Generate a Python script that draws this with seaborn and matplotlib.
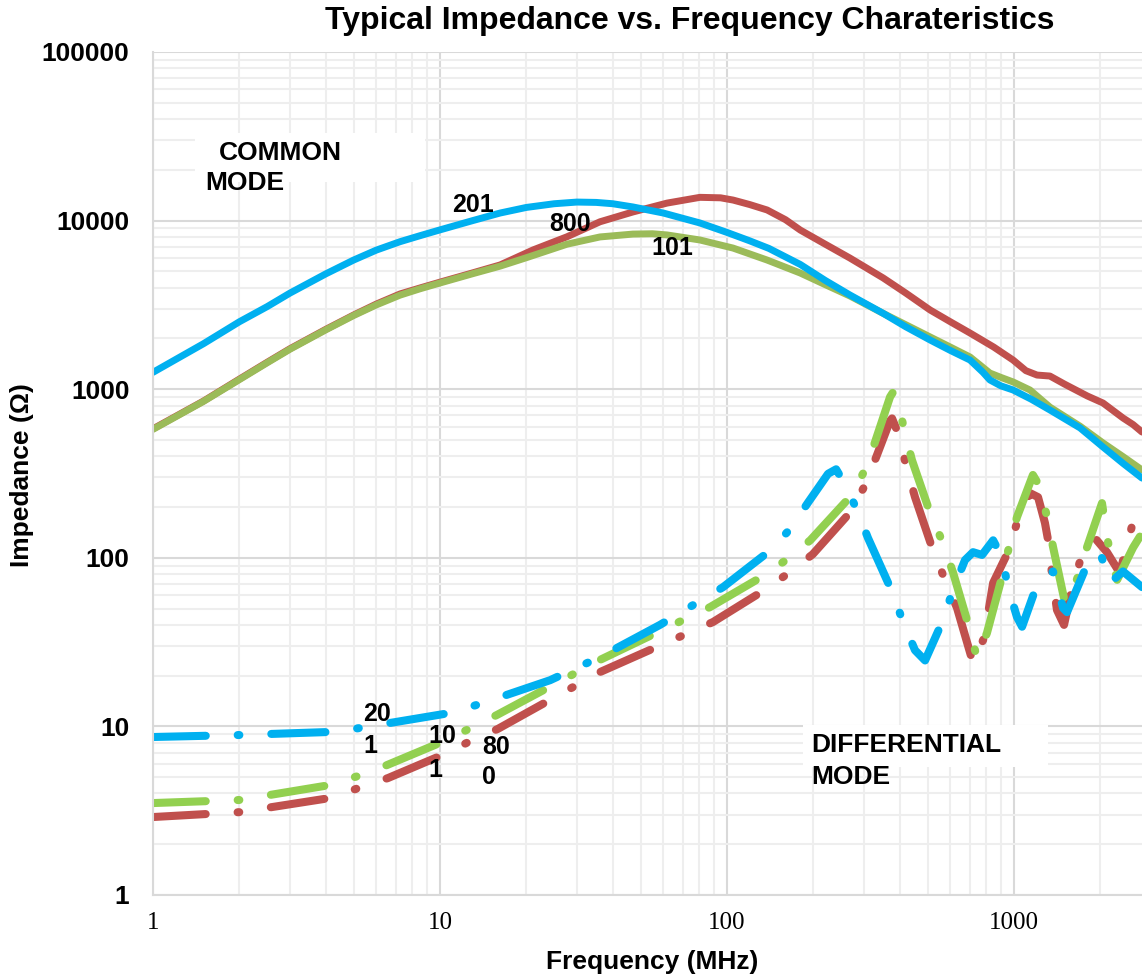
import numpy as np
import pandas as pd
import matplotlib
matplotlib.use("Agg")
import matplotlib.pyplot as plt
import seaborn as sns
from matplotlib.ticker import LogLocator, FixedLocator, FixedFormatter, NullFormatter
from matplotlib.patches import Rectangle

# ---------------- data (MHz, Ohm) ----------------
cm201_f = [1, 1.5, 2, 2.5, 3, 4, 5, 6, 7.26, 8.5, 10, 13, 16.2, 20, 25, 30, 35, 40, 47, 60, 80.5, 100, 120, 140,
           180, 220, 268, 350, 420, 510, 600, 703, 780, 824, 900, 993, 1150, 1334, 1700, 2043, 2400, 2793]
cm201_z = [1259, 1862, 2512, 3090, 3715, 4831, 5834, 6683, 7499, 8128, 8810, 10000, 11090, 11970, 12590, 12880,
           12820, 12590, 12050, 11090, 9680, 8510, 7586, 6839, 5495, 4416, 3622, 2818, 2344, 1959, 1698, 1489,
           1259, 1135, 1047, 989, 871, 753, 589, 454, 363, 297]

cm800_f = [1, 1.5, 2, 2.5, 3, 4, 5, 6, 7.26, 8.5, 10, 13, 16.2, 21.1, 27.7, 36.1, 47, 61.8, 80.5, 95, 105, 120, 138,
           160, 180, 220, 268, 350, 420, 510, 600, 703, 850, 993, 1100, 1203, 1334, 1500, 1800, 2043, 2398, 2600, 2793]
cm800_z = [582, 851, 1148, 1445, 1738, 2265, 2754, 3199, 3673, 3981, 4315, 4898, 5458, 6699, 8017, 9840, 11250,
           12700, 13740, 13650, 13240, 12450, 11560, 10120, 8790, 7244, 5998, 4571, 3715, 2951, 2512, 2153, 1778,
           1489, 1288, 1213, 1197, 1072, 912, 828, 675, 617, 557]

cm101_f = [1, 1.5, 2, 2.5, 3, 4, 5, 6, 7.26, 8.5, 10, 13, 16.2, 20, 27.7, 36.1, 47, 55, 61.8, 80.5, 105, 138, 180,
           220, 268, 350, 510, 600, 703, 824, 900, 993, 1137, 1334, 1700, 2043, 2400, 2793]
cm101_z = [578, 847, 1140, 1435, 1726, 2249, 2735, 3162, 3614, 3936, 4266, 4842, 5370, 6026, 7244, 8000, 8318,
           8356, 8222, 7674, 6871, 5834, 4887, 4169, 3573, 2818, 2042, 1778, 1552, 1247, 1175, 1104, 989, 783,
           603, 480, 398, 332]

dm201_f = [1, 2, 4.14, 5.0, 10.8, 13.8, 24.2, 36.1, 58.4, 96.9, 139, 166, 191, 225, 240, 254, 284, 310, 376, 410, 452,
           490, 566, 613, 675, 720, 774, 846, 908, 953, 1024, 1067, 1213, 1368, 1483, 1531, 1767, 1995, 2160, 2398, 2793]
dm201_z = [8.65, 8.89, 9.27, 9.65, 12.0, 13.6, 18.8, 25.8, 40, 67, 108, 148, 211, 315, 335, 285, 192, 131, 63, 42,
           28.3, 24.6, 42.7, 64.5, 97, 108, 104, 127, 101, 67, 44.6, 39, 72, 83, 50.3, 47.6, 85, 108, 71, 83, 67]

dm101_f = [1, 2, 4.14, 5.18, 6.54, 10.2, 12.6, 15.8, 36.1, 87.3, 132, 162, 195, 268, 303, 328, 370, 379, 391, 414,
           441, 510, 566, 613, 697, 743, 805, 908, 961, 1024, 1164, 1222, 1303, 1368, 1506, 1659, 1795, 2026, 2043,
           2126, 2288, 2600, 2793]
dm101_z = [3.51, 3.66, 4.49, 5.08, 5.9, 8.1, 9.66, 11.7, 24.8, 51, 77, 98, 127, 229, 333, 486, 900, 960, 890, 581,
           380, 185, 122, 82, 39, 25.5, 35.8, 77, 116, 174, 310, 270, 176, 116, 54, 75, 115, 211, 192, 124, 74,
           115, 140]

dm800_f = [1, 2, 4.14, 5.18, 6.59, 10.2, 12.6, 15.9, 36.1, 89.4, 132, 162, 199, 268, 303, 333, 370, 376, 397, 421,
           452, 522, 575, 633, 720, 786, 846, 953, 1024, 1137, 1213, 1282, 1334, 1356, 1412, 1494, 1594, 1712, 1914,
           2108, 2341, 2436, 2600, 2793]
dm800_z = [2.9, 3.1, 3.76, 4.3, 4.94, 6.77, 8.1, 9.66, 21, 41.6, 62.8, 80, 105, 185, 270, 406, 650, 671, 535, 351,
           229, 111, 74, 50.5, 23.8, 33.4, 71, 108, 161, 242, 229, 161, 111, 79, 49, 40, 66, 100, 131, 108, 81,
           108, 163, 179]

ytick_vals = [1, 10, 100, 1000, 10000, 100000]
ytick_labels = ["1", "10", "100", "1000", "10000", "100000"]
xtick_vals = [1, 10, 100, 1000]
xtick_labels = ["1", "10", "100", "1000"]

BLUE = "#00B0F0"
RED = "#C0504D"
GREEN_CM = "#9BBB59"
GREEN_DM = "#92D050"

# ---------------- style ----------------
sns.set_style("white")
plt.rcParams["font.family"] = ["Liberation Sans", "DejaVu Sans"]
plt.rcParams["lines.scale_dashes"] = False
for k in ["text.color", "axes.labelcolor", "xtick.color", "ytick.color"]:
    plt.rcParams[k] = "black"

fig = plt.figure(figsize=(11.42, 9.77), dpi=100)
ax = fig.add_axes([153 / 1142, 82 / 977, 989 / 1142, 843 / 977])
ax.set_xscale("log")
ax.set_yscale("log")
ax.set_xlim(1, 2793)
ax.set_ylim(1, 100000)
ax.set_axisbelow(True)

ax.xaxis.set_major_locator(FixedLocator(xtick_vals))
ax.xaxis.set_major_formatter(FixedFormatter(xtick_labels))
ax.xaxis.set_minor_locator(LogLocator(base=10, subs=np.arange(2, 10), numticks=20))
ax.xaxis.set_minor_formatter(NullFormatter())
ax.yaxis.set_major_locator(FixedLocator(ytick_vals))
ax.yaxis.set_major_formatter(FixedFormatter(ytick_labels))
ax.yaxis.set_minor_locator(LogLocator(base=10, subs=np.arange(2, 10), numticks=20))
ax.yaxis.set_minor_formatter(NullFormatter())
ax.grid(which="major", color="#d9d9d9", linewidth=1.5)
ax.grid(which="minor", color="#eeeeee", linewidth=1.5)
ax.tick_params(which="both", length=0, colors="black")
ax.tick_params(axis="y", pad=17, labelsize=19)
ax.tick_params(axis="x", pad=12, labelsize=18)
for lab in ax.get_yticklabels():
    lab.set_fontweight("bold")
for lab in ax.get_xticklabels():
    lab.set_fontfamily("Liberation Serif")

for s in ["top", "right"]:
    ax.spines[s].set_visible(False)
for s in ["left", "bottom"]:
    ax.spines[s].set_color("#d9d9d9")
    ax.spines[s].set_linewidth(1.5)

# white boxes behind mode labels
ax.add_patch(Rectangle((0.0425, 0.846), 0.2325, 0.058, transform=ax.transAxes,
                       facecolor="white", edgecolor="none", zorder=1.5))
ax.add_patch(Rectangle((0.657, 0.152), 0.248, 0.050, transform=ax.transAxes,
                       facecolor="white", edgecolor="none", zorder=1.5))

# ---------------- common mode ----------------
for f, z, c in [(cm800_f, cm800_z, RED), (cm101_f, cm101_z, GREEN_CM), (cm201_f, cm201_z, BLUE)]:
    sns.lineplot(x=f, y=z, ax=ax, color=c, linewidth=5.0, estimator=None, sort=False,
                 solid_capstyle="round", solid_joinstyle="round", zorder=2)

# ---------------- differential mode (long dash - dot) ----------------
for f, z, c in [(dm800_f, dm800_z, RED), (dm101_f, dm101_z, GREEN_DM), (dm201_f, dm201_z, BLUE)]:
    sns.lineplot(x=f, y=z, ax=ax, color=c, linewidth=5.8, estimator=None, sort=False, zorder=2)
    ln = ax.lines[-1]
    ln.set_linestyle((1, (39, 23, 1.2, 23)))
    ln.set_dash_capstyle("round")
    ln.set_dash_joinstyle("round")

# ---------------- annotations ----------------
tk = dict(transform=ax.transAxes, fontsize=19, fontweight="bold", zorder=3)
ax.text(0.0667, 0.880, "COMMON", ha="left", va="center", **tk)
ax.text(0.0526, 0.8446, "MODE", ha="left", va="center", **tk)
ax.text(0.666, 0.178, "DIFFERENTIAL", ha="left", va="center", **tk)
ax.text(0.666, 0.140, "MODE", ha="left", va="center", **tk)

lk = dict(transform=ax.transAxes, fontsize=18, fontweight="bold", zorder=3)
ax.text(0.3236, 0.8185, "201", ha="center", va="center", **lk)
ax.text(0.4216, 0.796, "800", ha="center", va="center", **lk)
ax.text(0.5248, 0.7675, "101", ha="center", va="center", **lk)
ax.text(0.2123, 0.2147, "20", ha="left", va="center", **lk)
ax.text(0.2123, 0.1767, "1", ha="left", va="center", **lk)
ax.text(0.278, 0.1886, "10", ha="left", va="center", **lk)
ax.text(0.278, 0.1483, "1", ha="left", va="center", **lk)
ax.text(0.3327, 0.176, "80", ha="left", va="center", **lk)
ax.text(0.3327, 0.140, "0", ha="left", va="center", **lk)

ax.set_xlabel("")
ax.set_ylabel("")
fig.text(690 / 1142, 1 - 21 / 977, "Typical Impedance vs. Frequency Charateristics",
         ha="center", va="center", fontsize=23, fontweight="bold")
fig.text(652 / 1142, 1 - 962 / 977, "Frequency (MHz)", ha="center", va="center",
         fontsize=19, fontweight="bold")
fig.text(22 / 1142, 1 - 475 / 977, "Impedance (Ω)", ha="center", va="center",
         rotation=90, fontsize=19, fontweight="bold")

fig.savefig("out.png", dpi=100)
